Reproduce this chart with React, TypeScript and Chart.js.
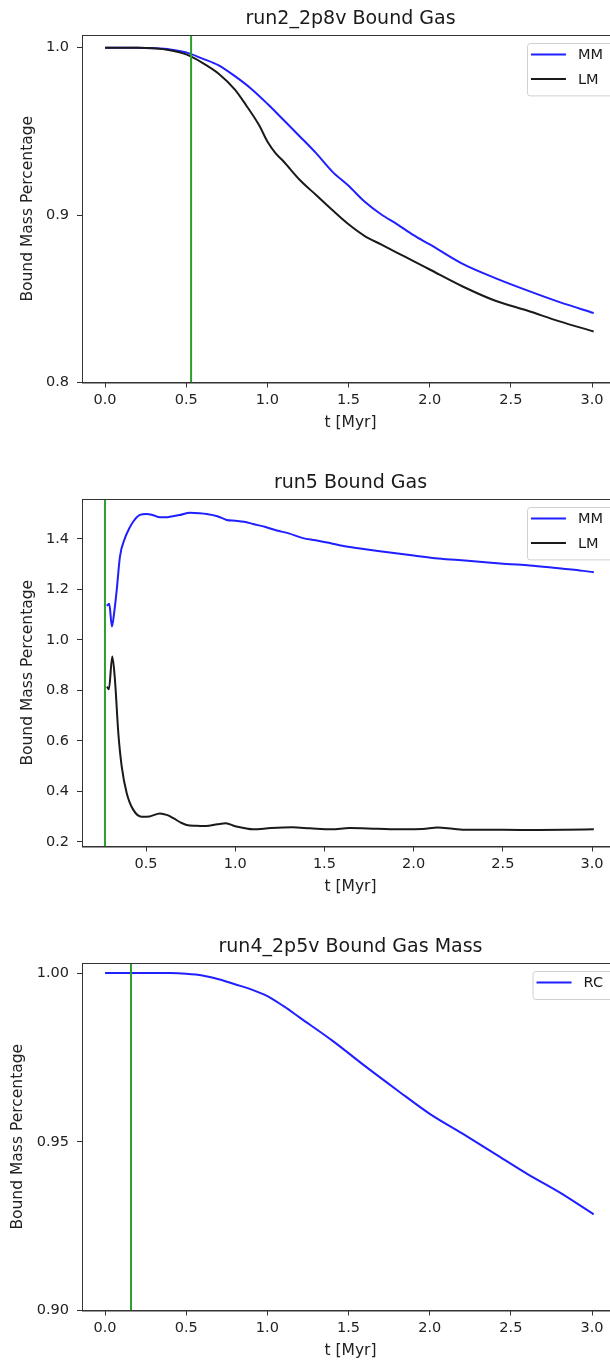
import React, { useEffect, useRef } from "react";
import { Chart, registerables } from "chart.js";

Chart.register(...registerables);

const FONT = "'DejaVu Sans', sans-serif";
const BLUE = "#1f1fff";
const BLACK = "#1a1a1a";
const GREEN = "#2ca02c";

// ---------- Panel 1: run2_2p8v ----------
const p1Title = "run2_2p8v Bound Gas";
const p1MMT = [0, 0.1, 0.2, 0.3, 0.4, 0.5, 0.6, 0.7, 0.8, 0.9, 1.0, 1.1, 1.2, 1.3, 1.4, 1.5, 1.6, 1.7, 1.8, 1.9, 2.0, 2.2, 2.4, 2.6, 2.8, 3.01];
const p1MM = [1.0, 1.0, 1.0, 0.9997, 0.999, 0.9972, 0.9935, 0.9895, 0.983, 0.9755, 0.9665, 0.9568, 0.947, 0.937, 0.926, 0.9175, 0.908, 0.9005, 0.8945, 0.888, 0.8825, 0.871, 0.8625, 0.855, 0.848, 0.8415];
const p1LMT = [0, 0.1, 0.2, 0.3, 0.4, 0.5, 0.6, 0.7, 0.8, 0.87, 0.95, 1.0, 1.05, 1.1, 1.2, 1.3, 1.4, 1.5, 1.6, 1.7, 1.8, 1.9, 2.0, 2.2, 2.4, 2.6, 2.8, 3.01];
const p1LM = [1.0, 1.0, 1.0, 0.9997, 0.9985, 0.996, 0.991, 0.9845, 0.975, 0.9655, 0.9535, 0.944, 0.937, 0.932, 0.921, 0.912, 0.903, 0.8945, 0.8875, 0.8825, 0.8775, 0.8725, 0.8675, 0.8575, 0.849, 0.843, 0.8365, 0.8305];
const p1Vline = 0.53;
const p1XRange = [-0.142, 3.166];
const p1YRange = [0.8, 1.0076];
const p1XTicks = [0, 0.5, 1.0, 1.5, 2.0, 2.5, 3.0];
const p1YTicks = [0.8, 0.9, 1.0];

// ---------- Panel 2: run5 ----------
const p2Title = "run5 Bound Gas";
const p2MMT = [0.28, 0.294, 0.309, 0.322, 0.336, 0.354, 0.382, 0.405, 0.429, 0.466, 0.504, 0.54, 0.578, 0.62, 0.65, 0.69, 0.747, 0.8, 0.84, 0.9, 0.952, 1.0, 1.05, 1.1, 1.17, 1.233, 1.3, 1.38, 1.45, 1.535, 1.6, 1.7, 1.8, 1.9, 2.0, 2.12, 2.25, 2.4, 2.52, 2.65, 2.8, 2.9, 3.01];
const p2MM = [1.135, 1.143, 1.053, 1.11, 1.198, 1.33, 1.403, 1.44, 1.469, 1.495, 1.499, 1.494, 1.486, 1.486, 1.49, 1.495, 1.504, 1.502, 1.499, 1.49, 1.475, 1.472, 1.468, 1.459, 1.447, 1.433, 1.422, 1.403, 1.395, 1.383, 1.373, 1.362, 1.352, 1.343, 1.334, 1.323, 1.316, 1.308, 1.301, 1.295, 1.285, 1.278, 1.268];
const p2LMT = [0.281, 0.292, 0.311, 0.326, 0.345, 0.364, 0.392, 0.429, 0.476, 0.52, 0.578, 0.62, 0.653, 0.7, 0.728, 0.78, 0.836, 0.9, 0.947, 1.0, 1.05, 1.1, 1.2, 1.32, 1.42, 1.54, 1.64, 1.8, 1.94, 2.05, 2.135, 2.22, 2.3, 2.5, 2.7, 2.85, 3.01];
const p2LM = [0.815, 0.805, 0.934, 0.842, 0.63, 0.498, 0.393, 0.327, 0.3, 0.301, 0.313, 0.306, 0.294, 0.275, 0.267, 0.264, 0.263, 0.27, 0.274, 0.262, 0.255, 0.25, 0.255, 0.258, 0.254, 0.25, 0.255, 0.252, 0.25, 0.251, 0.257, 0.252, 0.248, 0.248, 0.247, 0.248, 0.25];
const p2Vline = 0.27;
const p2XRange = [0.1413, 3.151];
const p2YRange = [0.182, 1.558];
const p2XTicks = [0.5, 1.0, 1.5, 2.0, 2.5, 3.0];
const p2YTicks = [0.2, 0.4, 0.6, 0.8, 1.0, 1.2, 1.4];

// ---------- Panel 3: run4_2p5v ----------
const p3Title = "run4_2p5v Bound Gas Mass";
const p3T = [0, 0.2, 0.4, 0.5, 0.6, 0.7, 0.8, 0.9, 1.0, 1.1, 1.2, 1.4, 1.6, 1.8, 2.0, 2.2, 2.4, 2.6, 2.8, 3.01];
const p3RC = [1.0, 1.0, 1.0, 0.9998, 0.9993, 0.9982, 0.9967, 0.9952, 0.9932, 0.9902, 0.9868, 0.98, 0.9725, 0.9653, 0.9583, 0.9525, 0.9465, 0.9405, 0.935, 0.9285];
const p3Vline = 0.16;
const p3XRange = [-0.142, 3.166];
const p3YRange = [0.9, 1.003];
const p3XTicks = [0, 0.5, 1.0, 1.5, 2.0, 2.5, 3.0];
const p3YTicks = [0.9, 0.95, 1.0];

type Series = { label: string; color: string; t: number[]; v: number[] };
type PanelDef = {
  title: string;
  series: Series[];
  vline: number;
  xRange: number[];
  yRange: number[];
  xTicks: number[];
  yTicks: number[];
  yDigits: number;
  yTitlePad: number;
};

const panels: PanelDef[] = [
  {
    title: p1Title,
    series: [
      { label: "MM", color: BLUE, t: p1MMT, v: p1MM },
      { label: "LM", color: BLACK, t: p1LMT, v: p1LM },
    ],
    vline: p1Vline, xRange: p1XRange, yRange: p1YRange, xTicks: p1XTicks, yTicks: p1YTicks, yDigits: 1, yTitlePad: 18.5,
  },
  {
    title: p2Title,
    series: [
      { label: "MM", color: BLUE, t: p2MMT, v: p2MM },
      { label: "LM", color: BLACK, t: p2LMT, v: p2LM },
    ],
    vline: p2Vline, xRange: p2XRange, yRange: p2YRange, xTicks: p2XTicks, yTicks: p2YTicks, yDigits: 1, yTitlePad: 18.5,
  },
  {
    title: p3Title,
    series: [{ label: "RC", color: BLUE, t: p3T, v: p3RC }],
    vline: p3Vline, xRange: p3XRange, yRange: p3YRange, xTicks: p3XTicks, yTicks: p3YTicks, yDigits: 2, yTitlePad: 8.5,
  },
];

const CANVAS_W = 620;
const CANVAS_H = 440;
const TICK_FONT = 14.5;
const LABEL_FONT = 15.5;
const TITLE_FONT = 19;

const framePlugin = {
  id: "frame",
  afterDraw(chart: any) {
    const { ctx, chartArea: a } = chart;
    ctx.save();
    ctx.strokeStyle = "#333";
    ctx.lineWidth = 1;
    ctx.strokeRect(a.left + 0.5, a.top + 0.5, a.right - a.left - 1, a.bottom - a.top);
    ctx.restore();
  },
};

const boxLegendPlugin = {
  id: "boxLegend",
  afterDraw(chart: any, _args: any, opts: any) {
    const items: { label: string; color: string }[] = opts.items || [];
    if (!items.length) return;
    const { ctx, chartArea: a } = chart;
    ctx.save();
    ctx.font = `${TICK_FONT}px ${FONT}`;
    let maxW = 0;
    items.forEach((it) => (maxW = Math.max(maxW, ctx.measureText(it.label).width)));
    const boxRight = a.right - 6;
    const textX = boxRight - 10 - maxW;
    const lineX2 = textX - 12;
    const lineX1 = lineX2 - 35;
    const boxLeft = lineX1 - 4;
    const top = a.top + 8;
    const rowGap = 24.4;
    const firstRow = top + 11.5;
    const bottom = firstRow + (items.length - 1) * rowGap + 16.5;
    ctx.beginPath();
    ctx.roundRect(boxLeft + 0.5, top + 0.5, boxRight - boxLeft, bottom - top, 3);
    ctx.fillStyle = "rgba(255,255,255,0.8)";
    ctx.fill();
    ctx.strokeStyle = "#d0d0d0";
    ctx.lineWidth = 1;
    ctx.stroke();
    items.forEach((it, i) => {
      const y = firstRow + i * rowGap;
      ctx.beginPath();
      ctx.moveTo(lineX1, y);
      ctx.lineTo(lineX2, y);
      ctx.strokeStyle = it.color;
      ctx.lineWidth = 2;
      ctx.stroke();
      ctx.fillStyle = "#1a1a1a";
      ctx.textAlign = "left";
      ctx.textBaseline = "middle";
      ctx.fillText(it.label, textX, y + 1);
    });
    ctx.restore();
  },
};

function makeConfig(p: PanelDef): any {
  const datasets: any[] = p.series.map((s, i) => ({
    label: s.label,
    data: s.t.map((t, k) => ({ x: t, y: s.v[k] })),
    borderColor: s.color,
    borderWidth: 2,
    pointRadius: 0,
    fill: false,
    showLine: true,
    cubicInterpolationMode: "monotone",
    order: p.series.length + 1 - i,
  }));
  datasets.push({
    label: "t_start",
    data: [
      { x: p.vline, y: p.yRange[0] },
      { x: p.vline, y: p.yRange[1] },
    ],
    borderColor: GREEN,
    borderWidth: 2,
    pointRadius: 0,
    showLine: true,
    order: 0,
  });
  return {
    type: "scatter",
    data: { datasets },
    plugins: [framePlugin, boxLegendPlugin],
    options: {
      animation: false,
      responsive: false,
      devicePixelRatio: 1,
      layout: { padding: { left: 0, right: 1, top: 0, bottom: 0 } },
      plugins: {
        legend: { display: false },
        tooltip: { enabled: false },
        title: {
          display: true,
          text: p.title,
          fullSize: false,
          color: "#1a1a1a",
          font: { family: FONT, size: TITLE_FONT, weight: "normal" },
          padding: { top: 7.5, bottom: 4.7 },
        },
        boxLegend: { items: p.series.map((s) => ({ label: s.label, color: s.color })) },
      },
      scales: {
        x: {
          type: "linear",
          position: "bottom",
          min: p.xRange[0],
          max: p.xRange[1],
          afterBuildTicks: (axis: any) => {
            axis.ticks = p.xTicks.map((v) => ({ value: v }));
          },
          afterFit: (s: any) => {
            s.height = CANVAS_H - 382.5;
          },
          grid: { display: true, drawOnChartArea: false, drawTicks: true, tickLength: 5, color: "#333", lineWidth: 1 },
          border: { display: true, color: "#333", width: 1 },
          ticks: {
            color: "#222",
            padding: 4,
            maxRotation: 0,
            autoSkip: false,
            font: { family: FONT, size: TICK_FONT },
            callback: (v: any) => Number(v).toFixed(1),
          },
          title: {
            display: true,
            text: "t [Myr]",
            color: "#222",
            font: { family: FONT, size: LABEL_FONT },
            padding: { top: 0, bottom: 7.7 },
          },
        },
        y: {
          type: "linear",
          position: "left",
          min: p.yRange[0],
          max: p.yRange[1],
          afterBuildTicks: (axis: any) => {
            axis.ticks = p.yTicks.map((v) => ({ value: v }));
          },
          afterFit: (s: any) => {
            s.width = 82;
          },
          grid: { display: true, drawOnChartArea: false, drawTicks: true, tickLength: 5, color: "#333", lineWidth: 1 },
          border: { display: true, color: "#333", width: 1 },
          ticks: {
            color: "#222",
            padding: 8,
            autoSkip: false,
            font: { family: FONT, size: TICK_FONT },
            callback: (v: any) => Number(v).toFixed(p.yDigits),
          },
          title: {
            display: true,
            text: "Bound Mass Percentage",
            color: "#222",
            font: { family: FONT, size: LABEL_FONT },
            padding: { top: p.yTitlePad, bottom: 0 },
          },
        },
      },
    },
  };
}

function Panel({ def, top }: { def: PanelDef; top: number }) {
  const ref = useRef<HTMLCanvasElement>(null);
  useEffect(() => {
    if (!ref.current) return;
    const chart = new Chart(ref.current, makeConfig(def));
    return () => chart.destroy();
  }, [def]);
  return (
    <canvas
      ref={ref}
      width={CANVAS_W}
      height={CANVAS_H}
      style={{ position: "absolute", left: 0, top, width: CANVAS_W, height: CANVAS_H }}
    />
  );
}

const panelTops = [0, 464, 928];

export default function App() {
  return (
    <div
      style={{
        position: "absolute",
        left: 0,
        top: 0,
        width: 610,
        height: 1364,
        overflow: "hidden",
        background: "#ffffff",
      }}
    >
      {panels.map((p, i) => (
        <Panel key={i} def={p} top={panelTops[i]} />
      ))}
    </div>
  );
}
